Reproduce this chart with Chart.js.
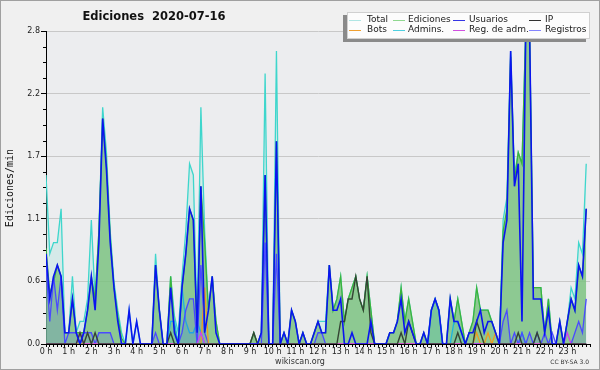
<!DOCTYPE html>
<html><head><meta charset="utf-8">
<script src="https://cdn.jsdelivr.net/npm/chart.js@4/dist/chart.umd.min.js"></script>
<style>html,body{margin:0;padding:0;background:#f0f0f0}#wrap{width:600px;height:370px;position:relative}</style>
</head><body><div id="wrap"><canvas id="c" width="600" height="370"></canvas></div>
<script>
const chartTitle = 'Ediciones  2020-07-16';
const yTitle = 'Ediciones/min';
const hourLabels = ['0 h','1 h','2 h','3 h','4 h','5 h','6 h','7 h','8 h','9 h','10 h','11 h','12 h','13 h','14 h','15 h','16 h','17 h','18 h','19 h','20 h','21 h','22 h','23 h'];
const yTickValues = [0, 0.5556, 1.1111, 1.6667, 2.2222, 2.7778];
const yTickLabels = ['0.0','0.6','1.1','1.7','2.2','2.8'];

const total = [1.5,0.8,0.9,0.9,1.2,0.1, 0.1,0.6,0.1,0.2,0.2,0.4, 1.1,0.4,1.0,2.1,1.7,1.0, 0.55,0.3,0.1,0,0.3,0,
 0.2,0,0,0,0,0.8, 0.3,0,0,0.6,0.25,0.1, 0.6,1.0,1.6,1.5,0.2,2.1, 1.0,0.3,0.6,0.2,0,0,
 0,0,0,0,0,0, 0,0.1,0,0.1,2.4,0, 0,2.6,0,0.1,0,0.3, 0.2,0,0.1,0,0,0.1,
 0.2,0.2,0.2,0.7,0.3,0.4, 0.6,0.2,0.4,0.5,0.6,0.4, 0.3,0.6,0.3,0,0,0, 0,0.1,0.1,0.2,0.5,0.2,
 0.4,0.2,0,0,0.1,0, 0.3,0.4,0.3,0,0,0.4, 0.2,0.4,0.2,0,0.1,0.2, 0.5,0.3,0.3,0.3,0.2,0.1,
 0,1.1,1.3,2.6,1.5,1.7, 1.6,2.8,2.8,0.5,0.5,0.5, 0.1,0.4,0,0,0.2,0, 0.2,0.5,0.4,0.9,0.8,1.6];
const ediciones = [0.85,0.45,0.55,0.7,0.6,0.1, 0.1,0.4,0.1,0.1,0.1,0.3, 0.6,0.4,1.0,2.0,1.6,0.95, 0.5,0.25,0.05,0,0,0,
 0,0,0,0,0,0.7, 0.3,0,0,0.6,0.15,0, 0.5,0.8,1.2,1.1,0.1,1.4, 0.9,0.3,0.6,0.2,0,0,
 0,0,0,0,0,0, 0,0.1,0,0.1,1.5,0, 0,1.8,0,0.1,0,0.3, 0.2,0,0.1,0,0,0.1,
 0.2,0.1,0.1,0.7,0.3,0.4, 0.6,0.2,0.4,0.5,0.6,0.4, 0.3,0.6,0.3,0,0,0, 0,0.1,0.1,0.2,0.5,0.2,
 0.4,0.2,0,0,0.1,0, 0.3,0.4,0.3,0,0,0.4, 0.2,0.4,0.2,0,0.1,0.2, 0.5,0.3,0.3,0.3,0.2,0.1,
 0,1.0,1.2,2.55,1.45,1.7, 1.6,2.8,2.8,0.5,0.5,0.5, 0.1,0.4,0,0,0.2,0, 0.2,0.4,0.3,0.7,0.6,1.2];
const usuarios = [0.8,0.4,0.6,0.7,0.6,0.1, 0.1,0.4,0.1,0,0.1,0.3, 0.6,0.3,0.9,2.0,1.55,0.9, 0.5,0.2,0,0,0.3,0,
 0.2,0,0,0,0,0.7, 0.3,0,0,0.5,0.1,0, 0.5,0.8,1.2,1.1,0.1,1.4, 0.1,0.3,0.6,0.1,0,0,
 0,0,0,0,0,0, 0,0,0,0.1,1.5,0, 0,1.8,0,0.1,0,0.3, 0.2,0,0.1,0,0,0.1,
 0.2,0.1,0.1,0.7,0.3,0.3, 0.4,0,0,0.1,0,0, 0,0,0.2,0,0,0, 0,0.1,0.1,0.2,0.4,0.1,
 0.2,0.1,0,0,0.1,0, 0.3,0.4,0.3,0,0,0.4, 0.2,0.2,0.1,0,0.1,0.1, 0.2,0.3,0.1,0.2,0.2,0.1,
 0,0.9,1.1,2.6,1.4,1.6, 0.2,2.8,2.8,0.4,0.4,0.4, 0.1,0.3,0,0,0.2,0, 0.2,0.4,0.3,0.7,0.6,1.2];
const ip = [0,0,0,0,0,0, 0,0,0,0.1,0,0.1, 0,0.1,0,0,0,0, 0,0,0,0,0,0,
 0,0,0,0,0,0, 0,0,0,0.1,0,0, 0,0,0,0,0,0, 0,0,0,0,0,0,
 0,0,0,0,0,0, 0,0.1,0,0,0,0, 0,0,0,0,0,0, 0,0,0,0,0,0,
 0,0,0,0,0,0, 0.2,0.2,0.4,0.4,0.6,0.4, 0.3,0.6,0.1,0,0,0, 0,0,0,0,0.1,0,
 0.2,0.1,0,0,0,0, 0,0,0,0,0,0, 0,0.1,0,0,0,0, 0.2,0.1,0,0,0,0,
 0,0,0,0,0,0.1, 0,0,0,0,0.1,0, 0,0,0,0,0,0, 0,0,0,0,0,0];
const bots = [0,0,0,0,0,0, 0,0,0,0,0,0, 0,0,0,0,0,0, 0,0,0,0,0,0,
 0,0,0,0,0,0, 0,0,0,0,0,0, 0,0,0,0,0,0, 0.5,0,0,0,0,0,
 0,0,0,0,0,0, 0,0,0,0,0,0, 0,0,0,0,0,0, 0,0,0,0,0,0,
 0,0,0,0,0,0, 0,0,0,0,0,0, 0,0,0,0,0,0, 0,0,0,0,0,0,
 0,0,0,0,0,0, 0,0,0,0,0,0, 0,0,0,0,0,0, 0.1,0,0,0.1,0,0.1,
 0,0,0,0,0,0, 0,0,0,0,0,0, 0,0,0,0,0,0, 0,0,0,0,0,0];
const admins = [0,0,0,0,0,0, 0,0,0,0,0,0, 0,0,0,0,0,0, 0,0,0,0,0,0,
 0,0,0,0,0,0, 0,0,0,0.2,0.2,0, 0.5,0.2,0.1,0.1,0.2,0.1, 0,0,0,0,0,0,
 0,0,0,0,0,0, 0,0,0,0,0,0, 0,0,0,0,0,0, 0,0,0,0,0,0,
 0,0,0,0,0,0, 0,0,0,0,0,0, 0,0,0,0,0,0, 0,0,0,0,0,0,
 0,0,0,0,0,0, 0.3,0.4,0.3,0,0,0, 0.2,0.2,0.1,0,0,0, 0,0,0,0,0,0,
 0,0,0,0,0,0, 0.1,0,0,0,0,0, 0,0,0,0,0,0, 0,0,0,0,0,0];
const regAdm = [0,0,0,0,0,0, 0,0,0,0.1,0,0, 0,0,0,0,0,0, 0,0,0,0,0,0,
 0,0,0,0,0,0, 0,0,0,0,0,0, 0,0,0,0,0,0.1, 0,0,0,0,0,0,
 0,0,0,0,0,0, 0,0,0,0,0,0, 0,0,0,0,0,0, 0,0,0,0,0,0,
 0,0,0,0,0,0, 0,0,0,0,0,0, 0,0,0,0,0,0, 0,0,0,0,0,0,
 0,0,0,0,0,0, 0,0,0,0,0,0, 0,0,0,0,0,0, 0,0,0,0,0,0,
 0,0,0,0,0,0, 0,0,0,0,0,0, 0,0,0,0,0,0, 0.1,0,0,0,0,0];
const registros = [0.7,0.2,0.6,0.3,0.6,0, 0.1,0.1,0.1,0,0.1,0.1, 0.1,0,0.1,0.1,0.1,0.1, 0,0,0,0,0,0,
 0,0,0,0,0,0.1, 0,0,0,0,0,0, 0.1,0.3,0.4,0.4,0,0.7, 0.1,0,0,0,0,0,
 0,0,0,0,0,0, 0,0,0,0,0.9,0, 0,0.8,0,0,0,0, 0,0,0,0,0,0,
 0.1,0.1,0,0,0,0, 0,0,0,0,0,0, 0,0,0,0,0,0, 0,0,0,0,0,0,
 0,0,0,0,0,0, 0,0,0,0,0,0, 0,0,0,0,0,0, 0,0,0,0,0,0,
 0,0.2,0.3,0,0.1,0, 0.1,0,0.1,0,0.1,0, 0.1,0,0.1,0,0,0, 0,0,0.1,0.2,0.1,0.4];

const seriesNames = ['Total','Ediciones','Usuarios','IP','Bots','Admins.','Reg. de adm.','Registros'];
const legendColors = ['#b0e6e4','#90d890','#3434e4','#303030','#f0a030','#50d0e0','#d050e0','#8484ff'];
const slots = total.map((_, i) => i);

const FONT = 'DejaVu Sans';

function ds(label, data, color, width, order, fill, bg) {
  return { label, data, borderColor: color, borderWidth: width, pointRadius: 0, tension: 0,
    fill: fill ? 'origin' : false, backgroundColor: bg || 'rgba(0,0,0,0)', order };
}

const bgPlugin = {
  id: 'bg',
  beforeDraw(chart) {
    const c = chart.ctx, a = chart.chartArea;
    c.save();
    c.fillStyle = '#f0f0f0'; c.fillRect(0, 0, 600, 370);
    c.fillStyle = '#ecedef'; c.fillRect(a.left, a.top, a.right - a.left, a.bottom - a.top);
    c.restore();
  },
  afterDraw(chart) {
    const c = chart.ctx, y = chart.scales.y;
    c.save();
    const step = (yTickValues[1] - yTickValues[0]) / 4;
    c.strokeStyle = '#000'; c.lineWidth = 1;
    for (let k = 1; k < 20; k++) {
      if (k % 4 === 0) continue;
      const py = Math.round(y.getPixelForValue(k * step)) + 0.5;
      c.beginPath(); c.moveTo(43, py); c.lineTo(46, py); c.stroke();
    }
    c.fillStyle = '#111'; c.font = 'bold 11.5px "' + FONT + '"';
    c.textAlign = 'center'; c.textBaseline = 'middle';
    c.fillText(chartTitle, 154, 17);
    c.save(); c.translate(10, 188); c.rotate(-Math.PI / 2);
    c.font = '10px "DejaVu Sans Mono"'; c.fillStyle = '#111';
    c.fillText(yTitle, 0, 0); c.restore();
    c.font = '8px "' + FONT + '"'; c.fillStyle = '#333';
    c.fillText('wikiscan.org', 300, 362);
    c.font = '6px "' + FONT + '"'; c.textAlign = 'right';
    c.fillText('CC BY-SA 3.0', 589, 362);
    c.fillStyle = '#8a8a8a'; c.fillRect(343, 15, 243, 27);
    c.fillStyle = '#fcfcfc'; c.fillRect(347, 12, 243, 27);
    c.strokeStyle = '#d0d0d0'; c.strokeRect(347.5, 12.5, 242, 26);
    const sx = [349, 393, 453, 529], tx = [367, 408, 469, 545], ry = [19.5, 29.5];
    c.font = '9px "' + FONT + '"'; c.textAlign = 'left'; c.textBaseline = 'middle';
    for (let i = 0; i < 8; i++) {
      const col = i % 4, row = Math.floor(i / 4);
      c.strokeStyle = legendColors[i]; c.lineWidth = 1;
      c.beginPath(); c.moveTo(sx[col], Math.round(ry[row]) + 0.5); c.lineTo(sx[col] + 12, Math.round(ry[row]) + 0.5); c.stroke();
      c.fillStyle = '#1a1a1a';
      c.fillText(seriesNames[i], tx[col], ry[row]);
    }
    c.strokeStyle = '#a0a0a0'; c.lineWidth = 1;
    c.strokeRect(0.5, 0.5, 599, 369);
    c.restore();
  }
};

new Chart(document.getElementById('c'), {
  type: 'line',
  data: {
    labels: slots,
    datasets: [
      ds('Total', total, '#3ed6cc', 1.3, 8, true, 'rgba(160,228,218,0.30)'),
      ds('Ediciones', ediciones, '#3cb43c', 1.3, 7, true, 'rgba(118,190,118,0.76)'),
      ds('Admins.', admins, '#1cb4e0', 1.3, 6, true, 'rgba(0,180,225,0.12)'),
      ds('Registros', registros, '#4a4aff', 1.3, 5, true, 'rgba(70,70,255,0.15)'),
      ds('Bots', bots, '#f09a20', 1.3, 4, false),
      ds('Reg. de adm.', regAdm, '#d040f0', 1.3, 3, false),
      ds('IP', ip, '#344434', 1.4, 2, false),
      ds('Usuarios', usuarios, '#0a14f0', 1.6, 1, false)
    ]
  },
  options: {
    responsive: false, animation: false, devicePixelRatio: 1,
    layout: { padding: { top: 31, right: 10, left: 0, bottom: 0 } },
    plugins: { legend: { display: false }, tooltip: { enabled: false }, title: { display: false } },
    scales: {
      x: {
        type: 'linear', min: 0, max: 144,
        afterBuildTicks: s => { s.ticks = Array.from({ length: 145 }, (_, k) => ({ value: k })); },
        afterFit: s => { s.height = 26; },
        ticks: { autoSkip: false, maxRotation: 0, minRotation: 0, padding: 0,
          font: { family: FONT, size: 8 }, color: '#222',
          callback: v => (v % 6 === 0 && hourLabels[v / 6]) ? hourLabels[v / 6] : '' },
        grid: { drawOnChartArea: false, drawTicks: true, tickLength: 3, tickColor: '#000', tickWidth: 1 },
        border: { display: true, color: '#000', width: 1 }
      },
      y: {
        type: 'linear', min: 0, max: yTickValues[yTickValues.length - 1],
        afterBuildTicks: s => { s.ticks = yTickValues.map(v => ({ value: v })); },
        afterFit: s => { s.width = 46; },
        ticks: { padding: 1, font: { family: FONT, size: 8 }, color: '#222',
          callback: (v, i) => yTickLabels[i] },
        grid: { color: c => (c.tick && c.tick.value > 0) ? '#c8c8c8' : 'rgba(0,0,0,0)',
          tickColor: '#000', tickLength: 5, lineWidth: 1 },
        border: { display: true, color: '#000', width: 1 }
      }
    }
  },
  plugins: [bgPlugin]
});
</script></body></html>
